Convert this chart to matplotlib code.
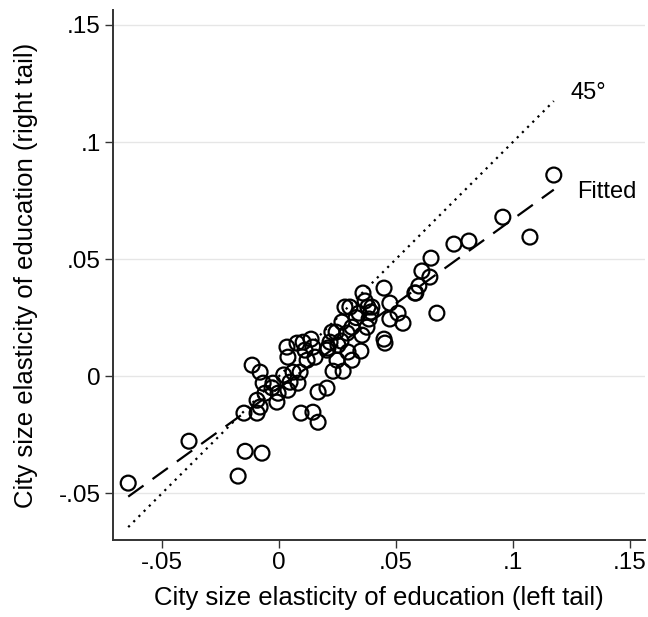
import numpy as np
import matplotlib
matplotlib.use("Agg")
import matplotlib.pyplot as plt

plt.rcParams['font.family'] = ['Liberation Sans', 'DejaVu Sans']

# City size elasticities of education, estimated in the two tails
left_tail = [
    -0.0645, -0.0385, -0.0150, -0.0145, -0.0073, -0.0175, -0.0115, -0.0081,
    -0.0068, -0.0026, -0.0060, -0.0004, -0.0094, -0.0081, -0.0094, -0.0009,
    0.0038, 0.0034, 0.0038, 0.0077, 0.0103, 0.0137, 0.0145, 0.0111,
    0.0154, 0.0120, 0.0060, 0.0090, 0.0047, 0.0081, 0.0094, 0.0145,
    0.0167, 0.0167, 0.0205, 0.0205, 0.0226, 0.0244, 0.0218, 0.0252,
    0.0209, 0.0248, 0.0295, 0.0312, 0.0350, 0.0231, 0.0274, 0.0269,
    0.0312, 0.0291, 0.0282, 0.0303, 0.0342, 0.0368, 0.0380, 0.0393,
    0.0385, 0.0376, 0.0355, 0.0449, 0.0474, 0.0509, 0.0474, 0.0530,
    0.0585, 0.0449, 0.0453, 0.0397, 0.0675, 0.0598, 0.0645, 0.0611,
    0.0650, 0.0748, 0.0812, 0.0957, 0.1073, 0.1175, 0.0359, 0.0581,
    -0.0030, 0.0020, 0.0265, 0.0330,
]
right_tail = [
    -0.0457, -0.0278, -0.0158, -0.0321, -0.0329, -0.0427, 0.0047, 0.0017,
    -0.0030, -0.0030, -0.0073, -0.0073, -0.0103, -0.0132, -0.0158, -0.0111,
    -0.0060, 0.0124, 0.0081, 0.0141, 0.0145, 0.0158, 0.0124, 0.0111,
    0.0081, 0.0068, 0.0017, 0.0017, -0.0026, -0.0030, -0.0158, -0.0154,
    -0.0197, -0.0068, -0.0051, 0.0111, 0.0188, 0.0188, 0.0145, 0.0132,
    0.0120, 0.0068, 0.0103, 0.0068, 0.0107, 0.0021, 0.0021, 0.0231,
    0.0209, 0.0184, 0.0295, 0.0295, 0.0269, 0.0321, 0.0295, 0.0274,
    0.0244, 0.0209, 0.0175, 0.0376, 0.0312, 0.0269, 0.0244, 0.0226,
    0.0355, 0.0158, 0.0141, 0.0295, 0.0269, 0.0385, 0.0423, 0.0449,
    0.0504, 0.0564, 0.0577, 0.0679, 0.0594, 0.0859, 0.0355, 0.0355,
    -0.0050, 0.0005, 0.0150, 0.0250,
]

ticks = [-0.05, 0, 0.05, 0.10, 0.15]
tick_labels = ['-.05', '0', '.05', '.1', '.15']

x = np.array(left_tail)
y = np.array(right_tail)

fig = plt.figure(figsize=(6.48, 6.17), dpi=100)
ax = fig.add_axes([0.1744, 0.1248, 0.8206, 0.859])

ax.set_xlim(-0.071, 0.1564)
ax.set_ylim(-0.070, 0.1564)

# horizontal reference grid
for t in ticks:
    ax.axhline(t, color='#e6e6e6', lw=1.0, zorder=0)

ax.scatter(x, y, s=115, facecolors='none', edgecolors='black',
           linewidths=1.6, zorder=3)

xs = np.array([x.min(), x.max()])

# 45 degree line
ax.plot(xs, xs, color='black', lw=1.6, linestyle=(0, (1, 2.3)), zorder=2)

# least-squares fit
slope, intercept = np.polyfit(x, y, 1)
ax.plot(xs, intercept + slope * xs, color='black', lw=1.6,
        linestyle=(0, (8.5, 5)), zorder=2)

ax.text(0.1245, 0.121, '45°', fontsize=17, ha='left', va='center')
ax.text(0.1275, 0.0785, 'Fitted', fontsize=17, ha='left', va='center')

ax.set_xticks(ticks)
ax.set_xticklabels(tick_labels)
ax.set_yticks(ticks)
ax.set_yticklabels(tick_labels)

for side in ('top', 'right'):
    ax.spines[side].set_visible(False)
for side in ('left', 'bottom'):
    ax.spines[side].set_color('#333333')
    ax.spines[side].set_linewidth(1.4)

ax.tick_params(axis='both', direction='out', length=6, width=1.0,
               color='#333333', labelsize=17.5, pad=3)

ax.set_xlabel('City size elasticity of education (left tail)', fontsize=18.5,
              labelpad=8)
ax.set_ylabel('City size elasticity of education (right tail)', fontsize=18.5,
              labelpad=15)

fig.savefig('out.png', dpi=100)
